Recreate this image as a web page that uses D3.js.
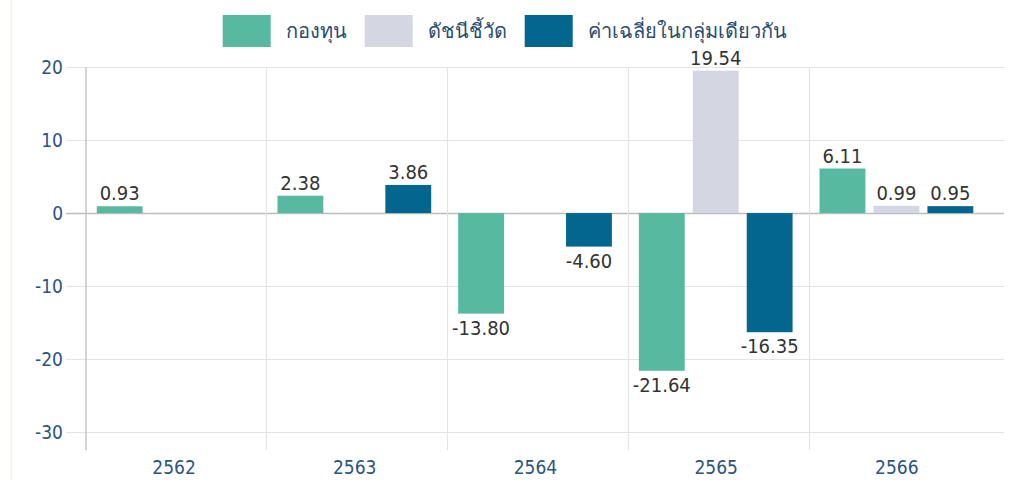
<!DOCTYPE html>
<html>
<head>
<meta charset="utf-8">
<script src="https://cdn.jsdelivr.net/npm/d3@7"></script>
<style>
  body { margin: 0; background: #fff; }
  svg { display: block; font-family: "DejaVu Sans Condensed", "DejaVu Sans", sans-serif; }
</style>
</head>
<body>
<script>
const width = 1010,
      height = 480;

// data
const categories = ["2562", "2563", "2564", "2565", "2566"];
const seriesNames = ["กองทุน", "ดัชนีชี้วัด", "ค่าเฉลี่ยในกลุ่มเดียวกัน"];
const fund = [0.93, 2.38, -13.80, -21.64, 6.11];
const benchmark = [null, null, null, 19.54, 0.99];
const peer = [null, 3.86, -4.60, -16.35, 0.95];
const yTicks = [-30, -20, -10, 0, 10, 20];
const colors = ["#58b9a1", "#d4d6e2", "#02668f"];

const series = [fund, benchmark, peer];

const svg = d3.select("body")
              .append("svg")
              .attr("width", width)
              .attr("height", height);

// faint frame line at the left edge
svg.append("line")
   .attr("x1", 11.5).attr("x2", 11.5)
   .attr("y1", 0).attr("y2", height)
   .attr("stroke", "#eef5e8")
   .attr("stroke-width", 1.5);

const x = d3.scaleBand()
            .domain(categories)
            .range([85.7, 85.7 + 180.7 * 5]);

const xInner = d3.scaleBand()
                 .domain(d3.range(series.length))
                 .range([0, x.bandwidth()])
                 .paddingInner(0.15)
                 .paddingOuter(0.25)
                 .align(0.41);

const y = d3.scaleLinear()
            .domain([-30, 20])
            .range([431.7, 67.3]);

var grid = svg.append("g");

// horizontal grid
grid.selectAll("line.h")
    .data(yTicks)
    .enter()
    .append("line")
    .attr("class", "h")
    .attr("x1", 66).attr("x2", 1004)
    .attr("y1", d => Math.round(y(d)) + 0.5)
    .attr("y2", d => Math.round(y(d)) + 0.5)
    .attr("stroke", d => d === 0 ? "#bdbdbd" : "#e4e4e4")
    .attr("stroke-width", d => d === 0 ? 1.5 : 1.2);

// vertical grid at category boundaries
grid.selectAll("line.v")
    .data(categories.slice(1))
    .enter()
    .append("line")
    .attr("class", "v")
    .attr("x1", d => Math.round(x(d)) + 0.5)
    .attr("x2", d => Math.round(x(d)) + 0.5)
    .attr("y1", 67).attr("y2", 450)
    .attr("stroke", "#e4e4e4")
    .attr("stroke-width", 1.2);

// y axis line
svg.append("line")
   .attr("x1", 86).attr("x2", 86)
   .attr("y1", 67).attr("y2", 450)
   .attr("stroke", "#c4c4c4")
   .attr("stroke-width", 1.5);

// y tick labels
svg.append("g")
   .selectAll("text")
   .data(yTicks)
   .enter()
   .append("text")
   .attr("x", 63)
   .attr("y", d => y(d) + 7)
   .attr("text-anchor", "end")
   .attr("font-size", 19)
   .attr("fill", "#2a5580")
   .text(d => d);

// x labels
svg.append("g")
   .selectAll("text")
   .data(categories)
   .enter()
   .append("text")
   .attr("x", d => x(d) + x.bandwidth() / 2 - 2)
   .attr("y", 474)
   .attr("text-anchor", "middle")
   .attr("font-size", 19)
   .attr("fill", "#2a5580")
   .text(d => d);

// bars
const bars = [];
series.forEach(function(vals, s) {
    vals.forEach(function(v, i) {
        if (v !== null) bars.push({s: s, cat: categories[i], v: v});
    });
});

var barG = svg.append("g");
barG.selectAll("rect")
    .data(bars)
    .enter()
    .append("rect")
    .attr("x", d => x(d.cat) + xInner(d.s))
    .attr("width", xInner.bandwidth())
    .attr("y", d => y(Math.max(0, d.v)))
    .attr("height", d => Math.abs(y(d.v) - y(0)))
    .attr("fill", d => colors[d.s]);

barG.selectAll("text")
    .data(bars)
    .enter()
    .append("text")
    .attr("x", d => x(d.cat) + xInner(d.s) + xInner.bandwidth() / 2)
    .attr("y", d => d.v >= 0 ? y(d.v) - 6 : y(d.v) + 21)
    .attr("text-anchor", "middle")
    .attr("font-size", 20)
    .attr("fill", "#333")
    .text(d => d.v.toFixed(2));

// legend
var legend = svg.append("g");
var lx = 222.7;
seriesNames.forEach(function(name, i) {
    legend.append("rect")
          .attr("x", lx).attr("y", 15)
          .attr("width", 48).attr("height", 32)
          .attr("fill", colors[i]);
    var t = legend.append("text")
                  .attr("x", lx + 48 + 15)
                  .attr("y", 38)
                  .attr("font-size", 20)
                  .attr("fill", "#2a4d70")
                  .text(name);
    lx += 48 + 15 + t.node().getComputedTextLength() + 18;
});
</script>
</body>
</html>
